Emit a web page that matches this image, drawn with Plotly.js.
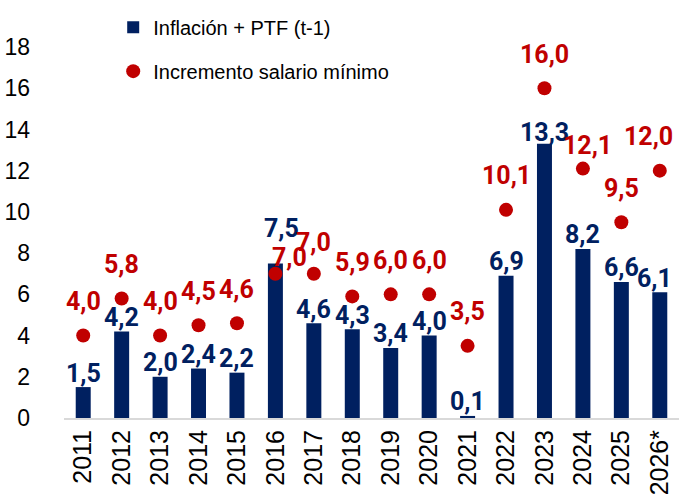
<!DOCTYPE html>
<html>
<head>
<meta charset="utf-8">
<script src="https://cdn.plot.ly/plotly-3.0.1.min.js"></script>
<style>html,body{margin:0;padding:0;background:#fff;}#chart{width:679px;height:502px;}</style>
</head>
<body>
<div id="chart"></div>
<script>
const years = ["2011","2012","2013","2014","2015","2016","2017","2018","2019","2020","2021","2022","2023","2024","2025","2026*"];
const inflacionPTF = [1.5,4.2,2.0,2.4,2.2,7.5,4.6,4.3,3.4,4.0,0.1,6.9,13.3,8.2,6.6,6.1];
const salarioMinimo = [4.0,5.8,4.0,4.5,4.6,7.0,7.0,5.9,6.0,6.0,3.5,10.1,16.0,12.1,9.5,12.0];
const yTicks = [0,2,4,6,8,10,12,14,16,18];

const NAVY = "#002060", RED = "#C00000";
const fmt = v => v.toFixed(1).replace(".", ",");
const xs = years.map((_, i) => i);

// label placement tweaks (pixels), styling only
const barShift = {"2016": [6, 35], "2023": [0, 11], "2026*": [-5, 14]};
const dotShift = {"2016": [14, 16], "2017": [0, 31], "2024": [5, 23], "2026*": [-11, 34]};

const annotations = [];
years.forEach((yr, i) => {
  const b = barShift[yr] || [0, 14];
  annotations.push({x: xs[i], y: inflacionPTF[i], xref: "x", yref: "y", text: fmt(inflacionPTF[i]),
    showarrow: false, xshift: b[0], yshift: b[1],
    font: {family: "Roboto, sans-serif", size: 25, color: NAVY, weight: "bold"}});
  const d = dotShift[yr] || [0, 34];
  annotations.push({x: xs[i], y: salarioMinimo[i], xref: "x", yref: "y", text: fmt(salarioMinimo[i]),
    showarrow: false, xshift: d[0], yshift: d[1],
    font: {family: "Roboto, sans-serif", size: 25, color: RED, weight: "bold"}});
});

const traces = [
  {type: "bar", name: "Inflación + PTF (t-1)", x: xs, y: inflacionPTF,
   marker: {color: NAVY}, legendgroup: "a"},
  {type: "scatter", mode: "markers", name: "Incremento salario mínimo", x: xs, y: salarioMinimo,
   marker: {color: RED, size: 14}, legendgroup: "b", cliponaxis: false}
];

const layout = {
  width: 679, height: 502,
  margin: {l: 64, r: 0, t: 47, b: 84},
  paper_bgcolor: "#fff", plot_bgcolor: "#fff",
  bargap: 0.61,
  showlegend: true,
  legend: {x: 0.08, y: 1.106, xanchor: "left", yanchor: "top", orientation: "v",
    tracegroupgap: 15, bgcolor: "rgba(0,0,0,0)",
    font: {family: "Liberation Sans, Arial, sans-serif", size: 20, color: "#000"}},
  xaxis: {range: [-0.5, 15.5], tickvals: xs, ticktext: years, tickangle: -90,
    showgrid: false, zeroline: false,
    showline: true, linecolor: "#d9d9d9", linewidth: 2, ticks: "",
    tickfont: {family: "Liberation Sans, Arial, sans-serif", size: 25, color: "#000"}},
  yaxis: {range: [0, 18], tickvals: yTicks, ticktext: yTicks.map(String), showgrid: false,
    zeroline: false, showline: false, ticks: "", ticklabelstandoff: 33,
    tickfont: {family: "Liberation Sans, Arial, sans-serif", size: 23, color: "#000"}},
  annotations: annotations
};

Plotly.newPlot("chart", traces, layout, {staticPlot: true, displayModeBar: false});
</script>
</body>
</html>
